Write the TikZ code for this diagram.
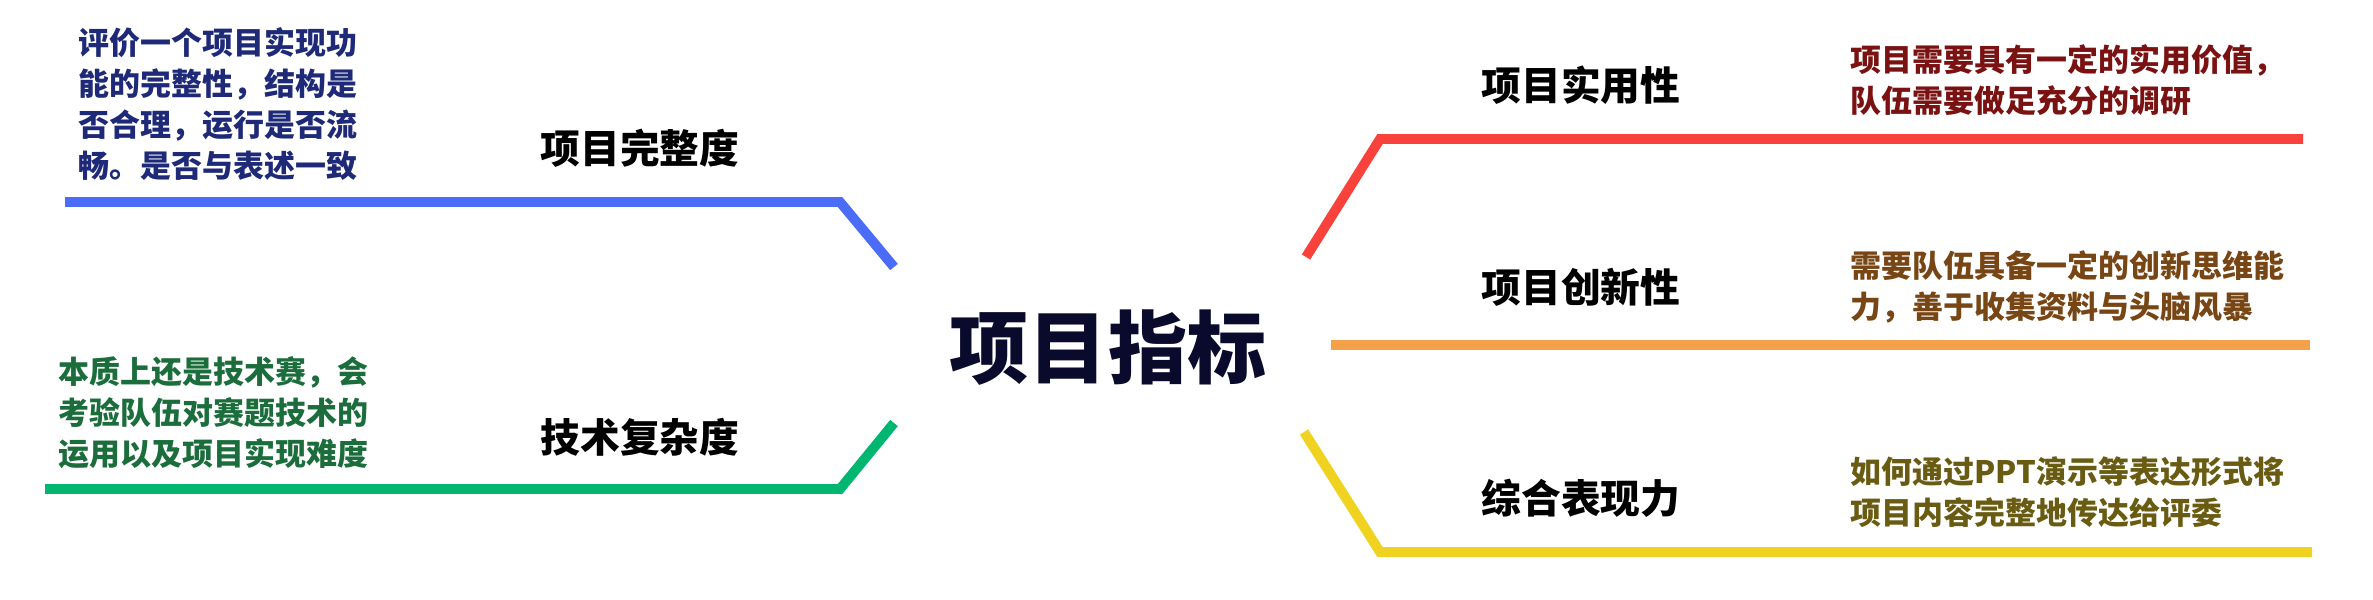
\documentclass[tikz,border=0pt]{standalone}
\usepackage{fontspec}
\setmainfont{Noto Sans CJK SC}
\usepackage{xcolor}
\usepackage{tikz}

\definecolor{lineblue}{RGB}{74,108,247}
\definecolor{linegreen}{RGB}{0,182,112}
\definecolor{linered}{RGB}{250,66,60}
\definecolor{lineorange}{RGB}{245,160,75}
\definecolor{lineyellow}{RGB}{240,210,32}
\definecolor{txtblue}{RGB}{30,42,120}
\definecolor{txtgreen}{RGB}{27,110,60}
\definecolor{txtred}{RGB}{122,18,18}
\definecolor{txtbrown}{RGB}{120,70,20}
\definecolor{txtolive}{RGB}{105,92,18}
\definecolor{titlenavy}{RGB}{10,10,45}

\begin{document}
\begin{tikzpicture}[x=0.01cm,y=-0.01cm]
	\useasboundingbox (0,0) rectangle (2373,599);
	
	\node[inner sep=0pt,text=titlenavy,font=\fontsize{22.5}{27}\selectfont\bfseries] (T) at (1108,348) {项目指标};
	
	\begin{scope}[every node/.style={inner sep=0pt,font=\fontsize{11.3}{13}\selectfont\bfseries}]
		\node (A) at (640,148) {项目完整度};
		\node (B) at (640,437) {技术复杂度};
		\node (C) at (1581,85) {项目实用性};
		\node (D) at (1581,287) {项目创新性};
		\node (E) at (1581,498) {综合表现力};
	\end{scope}
	
	\begin{scope}[every node/.style={inner sep=0pt,align=left,anchor=west,
			font=\fontsize{8.8}{11.7}\selectfont\bfseries}]
		\node[text=txtblue] (a) at (78,104) {评价一个项目实现功\\能的完整性，结构是\\否合理，运行是否流\\畅。是否与表述一致};
		\node[text=txtgreen] (b) at (58,413) {本质上还是技术赛，会\\考验队伍对赛题技术的\\运用以及项目实现难度};
		\node[text=txtred] (c) at (1850,80) {项目需要具有一定的实用价值，\\队伍需要做足充分的调研};
		\node[text=txtbrown] (d) at (1850,287) {需要队伍具备一定的创新思维能\\力，善于收集资料与头脑风暴};
		\node[text=txtolive] (e) at (1850,492) {如何通过PPT演示等表达形式将\\项目内容完整地传达给评委};
	\end{scope}
	
	% branch lines
	\coordinate (a0) at (65,202);
	\coordinate (a1) at (840,202);
	\coordinate (a2) at (894,267);
	\coordinate (b0) at (45,489);
	\coordinate (b1) at (840,489);
	\coordinate (b2) at (894,423);
	\coordinate (c0) at (1306,257);
	\coordinate (c1) at (1380,139);
	\coordinate (c2) at (2303,139);
	\coordinate (d0) at (1331,345);
	\coordinate (d1) at (2310,345);
	\coordinate (e0) at (1304,432);
	\coordinate (e1) at (1380,552);
	\coordinate (e2) at (2312,552);
	
	\begin{scope}[line width=2.8pt]
		\draw [lineblue] (a0) -- (a1) -- (a2);
		\draw [linegreen] (b0) -- (b1) -- (b2);
		\draw [linered] (c2) -- (c1) -- (c0);
		\draw [lineorange] (d0) -- (d1);
		\draw [lineyellow] (e0) -- (e1) -- (e2);
	\end{scope}
\end{tikzpicture}
\end{document}
